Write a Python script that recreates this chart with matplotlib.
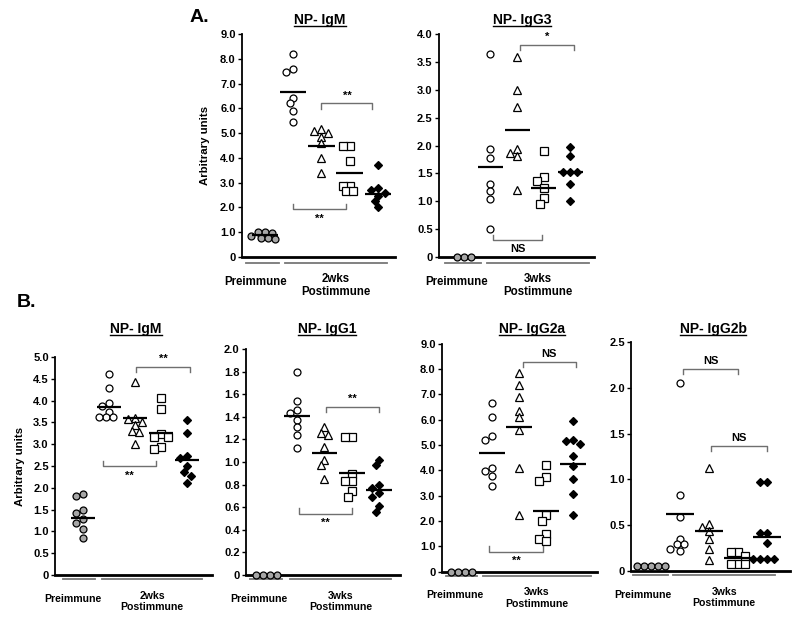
import numpy as np
import matplotlib
matplotlib.use("Agg")
import matplotlib.pyplot as plt
from matplotlib.lines import Line2D
from matplotlib.ticker import FuncFormatter, MultipleLocator

plt.rcParams['font.family'] = ['Liberation Sans', 'DejaVu Sans']
plt.rcParams['font.weight'] = 'bold'

# ---- data ----
a_igm_pre = [1.0, 1.0, 0.98, 0.85, 0.78, 0.75, 0.73]
a_igm_circ = [8.18, 7.6, 7.45, 6.4, 6.2, 5.9, 5.45]
a_igm_tri = [5.15, 5.1, 5.0, 4.85, 4.6, 4.0, 3.4]
a_igm_sq = [4.46, 4.46, 3.86, 2.85, 2.85, 2.65, 2.65]
a_igm_dia = [3.7, 2.78, 2.72, 2.6, 2.45, 2.25, 2.0]
a_igm_means = [0.87, 6.64, 4.5, 3.41, 2.55]

a_igg3_pre = [0, 0, 0]
a_igg3_circ = [3.64, 1.94, 1.77, 1.31, 1.19, 1.04, 0.51]
a_igg3_tri = [3.58, 2.99, 2.69, 1.94, 1.87, 1.82, 1.21]
a_igg3_sq = [1.91, 1.44, 1.36, 1.24, 1.05, 0.95]
a_igg3_dia = [1.98, 1.82, 1.53, 1.53, 1.53, 1.31, 1.01]
a_igg3_means = [None, 1.61, 2.28, 1.24, 1.52]

b_igm_pre = [1.85, 1.82, 1.5, 1.42, 1.28, 1.2, 1.05, 0.85]
b_igm_circ = [4.6, 4.3, 3.95, 3.88, 3.75, 3.62, 3.62, 3.62]
b_igm_tri = [4.42, 3.6, 3.58, 3.5, 3.43, 3.3, 3.28, 3.0]
b_igm_sq = [4.07, 3.8, 3.23, 3.16, 3.16, 2.93, 2.88]
b_igm_dia = [3.55, 3.25, 2.72, 2.68, 2.49, 2.37, 2.26, 2.12]
b_igm_means = [1.3, 3.86, 3.61, 3.25, 2.64]

b_igg1_pre = [0, 0, 0, 0]
b_igg1_circ = [1.8, 1.54, 1.46, 1.43, 1.37, 1.31, 1.24, 1.12]
b_igg1_tri = [1.31, 1.26, 1.24, 1.13, 1.02, 0.97, 0.85]
b_igg1_sq = [1.22, 1.22, 0.89, 0.83, 0.83, 0.74, 0.69]
b_igg1_dia = [1.02, 0.97, 0.8, 0.77, 0.73, 0.69, 0.61, 0.56]
b_igg1_means = [None, 1.41, 1.08, 0.9, 0.75]

b_igg2a_pre = [0, 0, 0, 0]
b_igg2a_circ = [6.67, 6.08, 5.34, 5.21, 4.1, 3.97, 3.76, 3.39]
b_igg2a_tri = [7.84, 7.36, 6.87, 6.33, 6.08, 5.58, 4.07, 2.22]
b_igg2a_sq = [4.2, 3.74, 3.56, 2.22, 2.0, 1.47, 1.3, 1.2]
b_igg2a_dia = [5.93, 5.21, 5.14, 5.05, 4.55, 4.16, 3.67, 3.05, 2.22]
b_igg2a_means = [None, 4.66, 5.71, 2.38, 4.26]

b_igg2b_pre = [0.06, 0.06, 0.06, 0.06, 0.06]
b_igg2b_circ = [2.05, 0.83, 0.59, 0.35, 0.29, 0.29, 0.24, 0.22]
b_igg2b_tri = [1.12, 0.51, 0.48, 0.44, 0.35, 0.24, 0.12]
b_igg2b_sq = [0.21, 0.21, 0.16, 0.08, 0.08, 0.08]
b_igg2b_dia = [0.97, 0.97, 0.41, 0.41, 0.31, 0.13, 0.13, 0.13, 0.13]
b_igg2b_means = [None, 0.62, 0.44, 0.14, 0.37]

# brackets: (x from, x to, y, label, 'down' ticks / 'up' ticks)
a_igm_brackets = [(3.0, 4.8, 6.2, "**", "down"), (2.0, 3.85, 1.93, "**", "up")]
a_igg3_brackets = [(3.1, 5.15, 3.81, "*", "down"), (2.1, 3.95, 0.3, "NS", "up")]
b_igm_brackets = [(3.05, 5.1, 4.77, "**", "down"), (1.75, 3.8, 2.49, "**", "up")]
b_igg1_brackets = [(3.05, 5.0, 1.49, "**", "down"), (2.05, 4.0, 0.54, "**", "up")]
b_igg2a_brackets = [(3.15, 5.1, 8.28, "NS", "down"), (1.9, 3.9, 0.78, "**", "up")]
b_igg2b_brackets = [(2.1, 4.0, 2.21, "NS", "down"), (3.05, 5.0, 1.37, "NS", "down")]

W, H = 800, 621
fig = plt.figure(figsize=(W / 100, H / 100), dpi=100)

marker_styles = [
    dict(marker='o', ms=5.0, mfc='#a6a6a6', mec='black', mew=0.9),
    dict(marker='o', ms=5.0, mfc='white', mec='black', mew=0.9),
    dict(marker='^', ms=6.0, mfc='white', mec='black', mew=0.9),
    dict(marker='s', ms=5.3, mfc='white', mec='black', mew=0.9),
    dict(marker='D', ms=4.0, mfc='black', mec='black', mew=0.9),
]
diam_px = 7.0


def swarm_x(ax, x0, vals):
    # simple beeswarm: spread points sideways only where they would overlap
    pts = ax.transData.transform(np.column_stack([np.full(len(vals), x0), vals]))
    order = np.argsort(-np.asarray(vals), kind='stable')
    placed = []
    out = np.zeros(len(vals))
    step = diam_px * 0.5
    ks = [0]
    for k in range(1, 12):
        ks += [-k, k]
    for i in order:
        px, py = pts[i]
        for k in ks:
            cx = px + k * step
            if all((cx - qx) ** 2 + (py - qy) ** 2 >= (0.85 * diam_px) ** 2 for qx, qy in placed):
                break
        placed.append((cx, py))
        out[i] = cx
    back = ax.transData.inverted().transform(np.column_stack([out, pts[:, 1]]))
    return back[:, 0]


def fmt(v, pos):
    return "0" if abs(v) < 1e-9 else f"{v:.1f}"


def make_panel(rect_px, xlim, ymax, ystep, groups, means, brackets, title, title_xy,
               weeks, pre_line, post_line, line_off, lab_fs, ylabel=None, ylabel_x=None):
    left, right, top, bottom = rect_px
    ax = fig.add_axes([left / W, 1 - bottom / H, (right - left) / W, (bottom - top) / H])
    ax.set_xlim(*xlim)
    ax.set_ylim(0, ymax)
    for s in ['top', 'right']:
        ax.spines[s].set_visible(False)
    ax.spines['left'].set_linewidth(1.3)
    ax.spines['bottom'].set_linewidth(2.0)
    ax.set_xticks([])
    ax.yaxis.set_major_locator(MultipleLocator(ystep))
    ax.yaxis.set_major_formatter(FuncFormatter(fmt))
    ax.tick_params(axis='y', length=3, width=1, labelsize=8, pad=1.5)
    for lab in ax.get_yticklabels():
        lab.set_fontweight('bold')

    for gi, (vals, st) in enumerate(zip(groups, marker_styles)):
        xs = swarm_x(ax, gi + 1, vals)
        ax.plot(xs, vals, linestyle='none', clip_on=False, zorder=3, **st)
        if means[gi] is not None:
            ax.plot([gi + 1 - 0.47, gi + 1 + 0.47], [means[gi], means[gi]],
                    color='black', lw=1.6, zorder=4, solid_capstyle='butt')

    tick = ymax * 0.025
    for x1, x2, y, lab, d in brackets:
        sgn = -1 if d == "down" else 1
        ax.plot([x1, x1, x2, x2], [y + sgn * tick, y, y, y + sgn * tick],
                color='#6f6f6f', lw=1.0, zorder=2)
        if d == "down":
            ax.annotate(lab, ((x1 + x2) / 2, y), xytext=(0, 2), textcoords='offset points',
                        ha='center', va='bottom', fontsize=8, fontweight='bold')
        else:
            ax.annotate(lab, ((x1 + x2) / 2, y), xytext=(0, -3), textcoords='offset points',
                        ha='center', va='top', fontsize=8, fontweight='bold')

    # group lines below the x axis
    shift = matplotlib.transforms.ScaledTranslation(0, -line_off / 72, fig.dpi_scale_trans)
    for (xa, xb) in [pre_line, post_line]:
        ax.plot([xa, xb], [0, 0], transform=ax.get_xaxis_transform() + shift,
                color='#777777', lw=1.3, clip_on=False)

    ax.annotate("Preimmune", ((pre_line[0] + pre_line[1]) / 2 - 0.25, 0),
                xycoords=('data', 'axes fraction'), xytext=(0, -13.5), textcoords='offset points',
                ha='center', va='top', fontsize=lab_fs, fontweight='bold')
    ax.annotate(f"{weeks}\nPostimmune", ((post_line[0] + post_line[1]) / 2, 0),
                xycoords=('data', 'axes fraction'), xytext=(0, -11.5), textcoords='offset points',
                ha='center', va='top', fontsize=lab_fs, fontweight='bold', linespacing=1.15)

    if ylabel:
        fig.text(ylabel_x / W, 1 - ((top + bottom) / 2) / H, ylabel, rotation=90,
                 ha='center', va='center', fontsize=8.2, fontweight='bold')

    t = fig.text(title_xy[0] / W, 1 - title_xy[1] / H, title, ha='center', va='center',
                 fontsize=10, fontweight='bold')
    return ax, t


panels = [
    ((242, 395, 34, 257), (0.19, 5.6), 9, 1.0,
     [a_igm_pre, a_igm_circ, a_igm_tri, a_igm_sq, a_igm_dia], a_igm_means, a_igm_brackets,
     "NP- IgM", (320, 20), "2wks", (0.33, 1.5), (1.71, 5.32), 4.5, 8.3, "Arbitrary units", 205),
    ((439, 594, 34, 257), (0.06, 5.9), 4, 0.5,
     [a_igg3_pre, a_igg3_circ, a_igg3_tri, a_igg3_sq, a_igg3_dia], a_igg3_means, a_igg3_brackets,
     "NP- IgG3", (522, 20), "3wks", (0.3, 1.65), (1.87, 5.7), 4.5, 8.3, None, None),
    ((55, 212, 357, 575), (-0.08, 5.96), 5, 0.5,
     [b_igm_pre, b_igm_circ, b_igm_tri, b_igm_sq, b_igm_dia], b_igm_means, b_igm_brackets,
     "NP- IgM", (136, 329), "2wks", (0.23, 1.46), (1.73, 5.58), 3.0, 7.6, "Arbitrary units", 20),
    ((246, 400, 349, 575), (0.12, 5.77), 2, 0.2,
     [b_igg1_pre, b_igg1_circ, b_igg1_tri, b_igg1_sq, b_igg1_dia], b_igg1_means, b_igg1_brackets,
     "NP- IgG1", (327, 329), "3wks", (0.25, 1.45), (1.75, 5.45), 3.0, 7.6, None, None),
    ((442, 597, 343.5, 571.5), (0.15, 5.89), 9, 1.0,
     [b_igg2a_pre, b_igg2a_circ, b_igg2a_tri, b_igg2a_sq, b_igg2a_dia], b_igg2a_means, b_igg2a_brackets,
     "NP- IgG2a", (532, 329), "3wks", (0.3, 1.45), (1.65, 5.65), 3.0, 7.6, None, None),
    ((631, 790, 342, 571), (0.31, 5.79), 2.5, 0.5,
     [b_igg2b_pre, b_igg2b_circ, b_igg2b_tri, b_igg2b_sq, b_igg2b_dia], b_igg2b_means, b_igg2b_brackets,
     "NP- IgG2b", (713, 329), "3wks", (0.38, 1.59), (1.76, 5.28), 3.0, 7.6, None, None),
]

titles = []
for p in panels:
    ax, t = make_panel(*p)
    titles.append(t)

fig.text(199 / W, 1 - 17 / H, "A.", ha='center', va='center', fontsize=14, fontweight='bold')
fig.text(27 / W, 1 - 303 / H, "B.", ha='center', va='center', fontsize=14, fontweight='bold')

# underline the panel titles
fig.canvas.draw()
r = fig.canvas.get_renderer()
for t in titles:
    bb = t.get_window_extent(renderer=r)
    y = (bb.y0 + 1.5) / H
    fig.add_artist(Line2D([bb.x0 / W, bb.x1 / W], [y, y], color='black', lw=1.0))

fig.savefig("out.png", dpi=100)
